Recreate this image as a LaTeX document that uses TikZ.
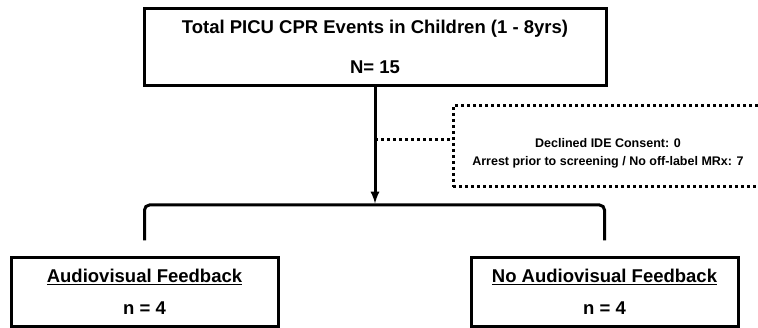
\documentclass[tikz,border=0pt]{standalone}
\usepackage{fontspec}
\setmainfont{Liberation Sans}
\usetikzlibrary{arrows, positioning}

\begin{document}
\begin{tikzpicture}[
            x = 1pt, y = 1pt, % work in points
            > = latex, % arrow head style
            line width = 3pt,
            font = \bfseries
        ]

        \tikzstyle{box}=[
            draw,
            line width = 3pt,
            align = center,
            inner sep = 0pt,
            minimum width = 267pt,
            minimum height = 69pt,
            font = \fontsize{18.5}{22}\selectfont\bfseries
        ]

        \tikzstyle{excluded}=[
            draw,
            line width = 3pt,
            dash pattern = on 3pt off 3pt,
            align = center,
            inner sep = 0pt,
            minimum width = 310pt,
            minimum height = 81pt,
            font = \fontsize{12.5}{18}\selectfont\bfseries
        ]

        \tikzstyle{dots}=[
            line width = 3pt,
            dash pattern = on 3pt off 3pt
        ]

        \useasboundingbox (0,0) rectangle (758,327);
        \clip (0,0) rectangle (758,327);

        \node[box, minimum width=462pt, minimum height=77pt] (total) at (375,280)
            {Total PICU CPR Events in Children (1 - 8yrs)\\[18pt]N= 15};

        % strut pushes the two lines a little below the middle
        \node[excluded] (excl) at (608,180.5)
            {\rule{0pt}{22pt}Declined IDE Consent: 0\\Arrest prior to screening / No off-label MRx: 7};

        \node[box] (avf) at (144.5,35.5) {\underline{Audiovisual Feedback}\\[10pt]n = 4};
        \node[box] (noavf) at (604.5,35.5) {\underline{No Audiovisual Feedback}\\[10pt]n = 4};

        \coordinate (split) at (total.south |- 0,122);
        \coordinate (tap) at (total.south |- 0,187);

        \draw[->, shorten > = 1.5pt] (total.south) -- (split);
        \draw[dots] (tap) -- (tap -| excl.west);

        \draw[rounded corners=5pt]
            ([yshift=15pt]avf.north) |- (split) -| ([yshift=15pt]noavf.north);

    \end{tikzpicture}
\end{document}
